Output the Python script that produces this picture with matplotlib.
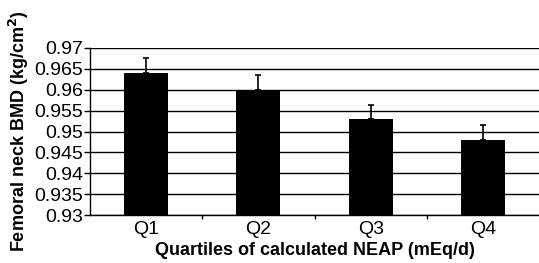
import numpy as np
import matplotlib.pyplot as plt

quartiles = ['Q1', 'Q2', 'Q3', 'Q4']
bmd = [0.964, 0.960, 0.953, 0.948]
bmd_err = [0.0035, 0.0035, 0.0033, 0.0036]

plt.rcParams['font.family'] = ['Liberation Sans', 'DejaVu Sans']

fig = plt.figure(figsize=(5.39, 2.63), dpi=100)
ax = fig.add_axes([0.167, 0.1825, 0.833, 0.635])

x = np.arange(len(quartiles))
ax.bar(x, bmd, width=0.39, color='black', zorder=3,
       yerr=[np.zeros(len(bmd_err)), bmd_err],
       error_kw=dict(ecolor='black', elinewidth=1.2, capsize=2.5, capthick=1.2, zorder=4))

ax.set_ylim(0.93, 0.97)
ax.set_xlim(-0.5, 3.5)
yt = np.arange(0.93, 0.9701, 0.005)
ax.set_yticks(yt)
ax.set_yticklabels(['%g' % round(v, 3) for v in yt], fontsize=14)
ax.yaxis.grid(True, color='black', linewidth=1.0, zorder=0)

ax.set_xticks(x)
ax.set_xticklabels(quartiles, fontsize=14)
ax.tick_params(axis='x', which='major', length=0, pad=4)
ax.set_xticks([0.5, 1.5, 2.5], minor=True)
ax.tick_params(axis='x', which='minor', length=3, width=1, direction='out')
ax.tick_params(axis='y', length=4, width=1, pad=1)

for s in ['top', 'right']:
    ax.spines[s].set_visible(False)
ax.spines['left'].set_linewidth(1.0)
ax.spines['bottom'].set_linewidth(1.0)

ax.set_xlabel('Quartiles of calculated NEAP (mEq/d)', fontsize=13, fontweight='bold', labelpad=3)
ax.set_ylabel('Femoral neck BMD (kg/cm$^\\mathbf{2}$)', fontsize=13, fontweight='bold', labelpad=2)

fig.savefig('out.png', dpi=100)
